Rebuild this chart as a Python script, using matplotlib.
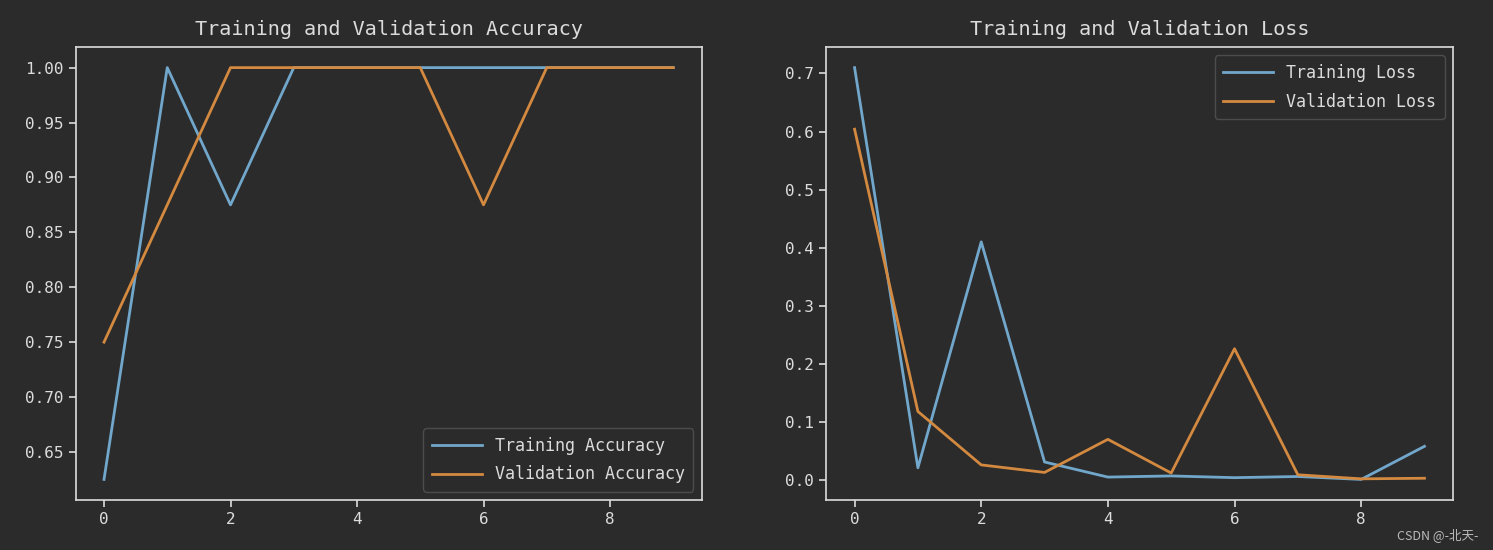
import matplotlib.pyplot as plt

epochs = list(range(10))
train_acc = [0.625, 1.0, 0.875, 1.0, 1.0, 1.0, 1.0, 1.0, 1.0, 1.0]
val_acc = [0.75, 0.875, 1.0, 1.0, 1.0, 1.0, 0.875, 1.0, 1.0, 1.0]
train_loss = [0.71, 0.021, 0.41, 0.031, 0.005, 0.007, 0.004, 0.006, 0.001, 0.058]
val_loss = [0.604, 0.118, 0.026, 0.013, 0.070, 0.012, 0.226, 0.009, 0.002, 0.003]

bg = '#2b2b2b'
fg = '#dcdcdc'
blue = '#72a7cc'
orange = '#d3893f'

plt.rcParams['font.family'] = ['DejaVu Sans Mono', 'Noto Sans CJK SC']

fig = plt.figure(figsize=(14.93, 5.5), dpi=100, facecolor=bg)
ax1 = fig.add_axes([0.0506, 0.0909, 0.4194, 0.8236])
ax2 = fig.add_axes([0.5533, 0.0909, 0.4199, 0.8236])

for ax in (ax1, ax2):
    ax.set_facecolor(bg)
    for s in ax.spines.values():
        s.set_color(fg)
        s.set_linewidth(1.2)
    ax.tick_params(colors=fg, labelsize=11.5, length=5, width=1.2)

# accuracy
ax1.plot(epochs, train_acc, color=blue, lw=2, label='Training Accuracy')
ax1.plot(epochs, val_acc, color=orange, lw=2, label='Validation Accuracy')
ax1.set_title('Training and Validation Accuracy', color=fg, fontsize=14.5, pad=9)
ax1.set_xticks([0, 2, 4, 6, 8])
ax1.legend(loc='lower right', fontsize=12, facecolor=bg, edgecolor='#555555',
           labelcolor=fg, handlelength=3, labelspacing=0.65, borderpad=0.5)

# loss
ax2.plot(epochs, train_loss, color=blue, lw=2, label='Training Loss')
ax2.plot(epochs, val_loss, color=orange, lw=2, label='Validation Loss')
ax2.set_title('Training and Validation Loss', color=fg, fontsize=14.5, pad=9)
ax2.set_xticks([0, 2, 4, 6, 8])
ax2.legend(loc='upper right', fontsize=12, facecolor=bg, edgecolor='#555555',
           labelcolor=fg, handlelength=3, labelspacing=0.65, borderpad=0.5)

fig.text(0.99, 0.02, 'CSDN @-北天-', color='#bbbbbb', fontsize=9, ha='right',
         family=['Noto Sans CJK SC', 'DejaVu Sans'])

fig.savefig('out.png', dpi=100, facecolor=bg)
